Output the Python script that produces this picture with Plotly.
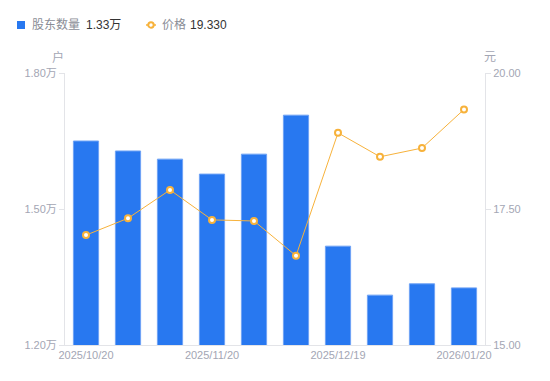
import plotly.graph_objects as go

dates = ["2025/10/20", "2025/10/31", "2025/11/10", "2025/11/20", "2025/11/28",
         "2025/12/10", "2025/12/19", "2025/12/31", "2026/01/09", "2026/01/20"]
holders = [1.650, 1.628, 1.610, 1.577, 1.621, 1.707, 1.418, 1.310, 1.335, 1.326]  # 万户
price = [17.02, 17.33, 17.85, 17.30, 17.28, 16.64, 18.90, 18.46, 18.62, 19.33]
xtick_dates = ["2025/10/20", "2025/11/20", "2025/12/19", "2026/01/20"]
left_ticks = [1.20, 1.50, 1.80]
left_ticktext = ["1.20万", "1.50万", "1.80万"]
right_ticks = [15.0, 17.5, 20.0]
right_ticktext = ["15.00", "17.50", "20.00"]
legend_names = ["股东数量", "价格"]
legend_values = ["1.33万", "19.330"]

label_color = "#a3a6b4"
axis_color = "#e3e4e8"
bar_color = "#2878f0"
line_color = "#f7b23b"
font_family = "Liberation Sans, Arial, Noto Sans CJK SC, sans-serif"

# page has 8px body margin; figure size compensates
W, H = 542, 373
L, R, T, B = 57, 65, 65, 36
PW, PH = W - L - R, H - T - B
OFF = 8


def px(x):  # page px -> paper x
    return (x - OFF - L) / PW


def py(y):  # page px -> paper y
    return 1 - (y - OFF - T) / PH


fig = go.Figure()
fig.add_trace(go.Bar(
    x=dates, y=holders, yaxis="y", name=legend_names[0],
    marker=dict(color=bar_color, line=dict(color="#6fa3f5", width=1)),
    width=0.6, showlegend=False,
))
fig.add_trace(go.Scatter(
    x=dates, y=price, yaxis="y2", mode="lines+markers", name=legend_names[1],
    line=dict(color=line_color, width=1),
    marker=dict(symbol="circle", size=6, color="white", line=dict(color=line_color, width=2)),
    showlegend=False,
))

shapes = [
    dict(type="rect", xref="paper", yref="paper", x0=px(17), x1=px(25), y0=py(29), y1=py(21),
         fillcolor=bar_color, line=dict(width=0)),
    dict(type="line", xref="paper", yref="paper", x0=px(146), x1=px(156), y0=py(25), y1=py(25),
         line=dict(color=line_color, width=1.5)),
    dict(type="circle", xref="paper", yref="paper", x0=px(148.3), x1=px(153.7), y0=py(27.7), y1=py(22.3),
         fillcolor="white", line=dict(color=line_color, width=2)),
]

ann = [
    dict(text=legend_names[0], x=px(30), y=py(25), font=dict(size=12, color="#8a8d96")),
    dict(text=legend_values[0], x=px(84), y=py(25), font=dict(size=12, color="#333333")),
    dict(text=legend_names[1], x=px(160), y=py(25), font=dict(size=12, color="#8a8d96")),
    dict(text=legend_values[1], x=px(188), y=py(25), font=dict(size=12, color="#333333")),
]
for a in ann:
    a.update(xref="paper", yref="paper", showarrow=False, xanchor="left", yanchor="middle")

ann += [
    dict(text="户", xref="paper", yref="paper", x=px(58), y=py(57),
         showarrow=False, font=dict(size=12, color=label_color), xanchor="center", yanchor="middle"),
    dict(text="元", xref="paper", yref="paper", x=px(490), y=py(57),
         showarrow=False, font=dict(size=12, color=label_color), xanchor="center", yanchor="middle"),
]

fig.update_layout(
    width=W, height=H,
    margin=dict(l=L, r=R, t=T, b=B),
    plot_bgcolor="white", paper_bgcolor="white",
    font=dict(family=font_family, size=11, color=label_color),
    showlegend=False,
    xaxis=dict(
        type="category", tickmode="array", tickvals=xtick_dates, ticktext=xtick_dates,
        showgrid=False, showline=True, linecolor=axis_color, linewidth=1,
        ticks="", tickfont=dict(size=11, color=label_color),
        range=[-0.5, len(dates) - 0.5],
    ),
    yaxis=dict(
        range=[1.20, 1.80], tickvals=left_ticks, ticktext=left_ticktext,
        showgrid=False, showline=True, linecolor=axis_color, linewidth=1,
        ticks="outside", ticklen=5, tickcolor=axis_color,
        tickfont=dict(size=11, color=label_color), zeroline=False,
    ),
    yaxis2=dict(
        range=[15.0, 20.0], tickvals=right_ticks, ticktext=right_ticktext,
        overlaying="y", side="right",
        showgrid=False, showline=True, linecolor=axis_color, linewidth=1,
        ticks="outside", ticklen=5, tickcolor=axis_color,
        tickfont=dict(size=11, color=label_color), zeroline=False,
    ),
    shapes=shapes,
    annotations=ann,
)

fig.write_html("out.html")
